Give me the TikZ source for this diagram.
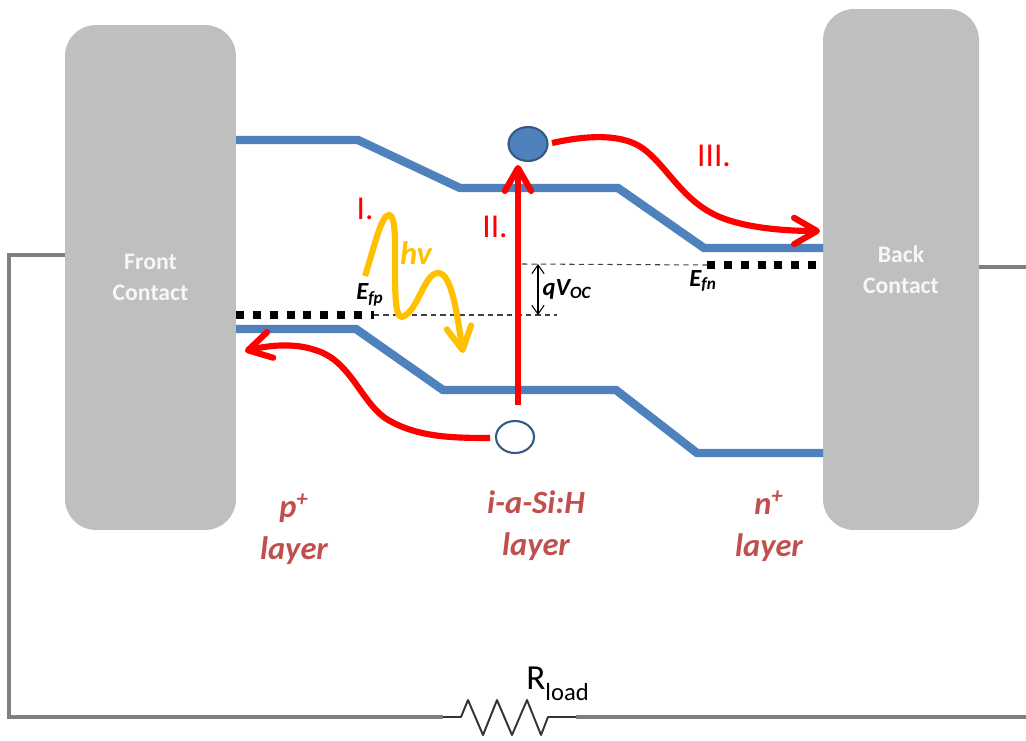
\documentclass[tikz,border=0pt]{standalone}
\usepackage{fontspec}
\setmainfont{Carlito}
\usetikzlibrary{arrows.meta,shapes.geometric}
\definecolor{bandblue}{HTML}{4F81BD}
\definecolor{contactgray}{HTML}{BFBFBF}
\definecolor{wiregray}{HTML}{7F7F7F}
\definecolor{layerred}{HTML}{C0504D}
\definecolor{photonyellow}{HTML}{FFC000}
\tikzset{
  contact/.style={draw=none,fill=contactgray,rounded corners=0.62cm,text=white!97!black,
    align=center,font=\bfseries\fontsize{13.5}{17.8}\selectfont},
  band/.style={draw=bandblue,line width=4.8pt,line join=miter},
  wire/.style={draw=wiregray,line width=2.3pt},
  fermi/.style={draw=black,line width=4.5pt,dash pattern=on 4.5pt off 5.1pt},
  quasi/.style={draw=black!75,line width=0.6pt,dash pattern=on 3pt off 2.4pt},
  carrier/.style={draw=red,line width=3.5pt,-{Straight Barb[round,length=13pt,width=15pt,line width=3.5pt]}},
  photon/.style={draw=photonyellow,line width=3.5pt,-{Straight Barb[round,length=13pt,width=14pt,line width=3.5pt]}},
  step label/.style={text=red,font=\fontsize{19}{19}\selectfont},
  layer label/.style={text=layerred,align=center,font=\bfseries\itshape\fontsize{18.5}{24}\selectfont},
  level label/.style={text=black,font=\bfseries\itshape\fontsize{14}{14}\selectfont},
}
\begin{document}
\begin{tikzpicture}[x=0.02cm,y=0.02cm]
\useasboundingbox (0,0) rectangle (1026,-740);
% contacts
\node [contact,minimum width=3.42cm,minimum height=10.1cm] (front) at (150.5,-277.5) {Front\\Contact};
\node [contact,minimum width=3.12cm,minimum height=10.42cm] (back) at (901,-269.5) {Back\\Contact};
% conduction band
\coordinate (c0) at (236,-140);
\coordinate (c1) at (358,-140);
\coordinate (c2) at (460,-188);
\coordinate (c3) at (618,-188);
\coordinate (c4) at (704,-248);
\coordinate (c5) at (823,-248);
\draw [band] (c0) -- (c1) -- (c2) -- (c3) -- (c4) -- (c5);
% valence band
\coordinate (v0) at (236,-329);
\coordinate (v1) at (356,-329);
\coordinate (v2) at (443,-390);
\coordinate (v3) at (616,-390);
\coordinate (v4) at (697,-453);
\coordinate (v5) at (823,-453);
\draw [band] (v0) -- (v1) -- (v2) -- (v3) -- (v4) -- (v5);
% quasi fermi levels
\coordinate (fp0) at (236,-315);
\coordinate (fp1) at (374,-315);
\coordinate (fp2) at (557,-315);
\coordinate (fn0) at (522,-264);
\coordinate (fn1) at (707,-265);
\coordinate (fn2) at (820,-265);
\draw [quasi] (fp1) -- (fp2);
\draw [quasi] (fn0) -- (fn1);
\draw [fermi] (fp0) -- (fp1);
\draw [fermi] (fn1) -- (fn2);
% open circuit voltage
\coordinate (voc0) at (538,-264);
\coordinate (voc1) at (538,-315);
\draw [black,line width=0.6pt,{Straight Barb[length=5pt,width=7pt]}-{Straight Barb[length=5pt,width=7pt]}] (voc0) -- (voc1);
% carriers
\node [ellipse,draw=bandblue!70!black,fill=bandblue,line width=1.2pt,minimum width=0.78cm,minimum height=0.68cm,inner sep=0pt] (electron) at (528,-144) {};
\node [ellipse,draw=bandblue!70!black,fill=white,line width=1.2pt,minimum width=0.76cm,minimum height=0.64cm,inner sep=0pt] (hole) at (515,-437) {};
\coordinate (exc0) at (518,-405);
\coordinate (exc1) at (518,-165);
\draw [carrier] (exc0) -- (exc1);
\coordinate (e0) at (552,-143);
\coordinate (e1) at (820,-231);
\draw [carrier] (e0) .. controls (575,-138) and (620,-130) .. (645,-150)
  .. controls (670,-170) and (685,-205) .. (725,-219)
  .. controls (750,-228) and (785,-231) .. (e1);
\coordinate (h0) at (490,-438);
\coordinate (h1) at (245,-351);
\draw [carrier] (h0) .. controls (450,-438) and (415,-437) .. (385,-418)
  .. controls (360,-400) and (350,-360) .. (315,-350)
  .. controls (295,-343) and (270,-345) .. (h1);
% photon
\coordinate (ph0) at (365,-276);
\coordinate (ph1) at (389,-215);
\coordinate (ph2) at (402,-317);
\coordinate (ph3) at (438,-273);
\coordinate (ph4) at (463,-353);
\draw [photon] (ph0) .. controls (374,-248) and (381,-215) .. (ph1)
  .. controls (402,-215) and (388,-318) .. (ph2)
  .. controls (418,-312) and (424,-273) .. (ph3)
  .. controls (452,-273) and (457,-315) .. (ph4);
% labels
\node [step label] (stepI) at (365,-209) {I.};
\node [step label] (stepII) at (495,-227) {II.};
\node [step label] (stepIII) at (714,-156) {III.};
\node [text=photonyellow,font=\bfseries\itshape\fontsize{18.5}{18.5}\selectfont] (hv) at (416,-253) {hv};
\node [level label] (efp) at (370,-295) {E\textsubscript{fp}};
\node [level label] (efn) at (703,-281) {E\textsubscript{fn}};
\node [level label] (qvoc) at (567,-289) {qV\textsubscript{OC}};
\node [layer label] (pl) at (294,-529) {p\textsuperscript{+}\\layer};
\node [layer label] (il) at (536,-526) {i-a-Si:H\\layer};
\node [layer label] (nl) at (769,-526) {n\textsuperscript{+}\\layer};
% load circuit
\coordinate (w0) at (9,-255);
\coordinate (w1) at (9,-717);
\coordinate (w2) at (443,-717);
\coordinate (w3) at (576,-717);
\coordinate (w4) at (1026,-717);
\coordinate (w5) at (1026,-267);
\draw [wire,line join=miter] (front.west |- w0) -- (w0) -- (w1) -- (w2);
\draw [wire] (w3) -- (w4);
\draw [wire] (back.east |- w5) -- (w5);
\coordinate (r0) at (461,-717);
\coordinate (r1) at (468,-700);
\coordinate (r2) at (483,-735);
\coordinate (r3) at (497,-700);
\coordinate (r4) at (512,-735);
\coordinate (r5) at (527,-700);
\coordinate (r6) at (541,-735);
\coordinate (r7) at (548,-717);
\draw [black!80,line width=1.1pt,line join=round] (w2) -- (r0) -- (r1) -- (r2) -- (r3) -- (r4) -- (r5) -- (r6) -- (r7) -- (w3);
\node [anchor=base west,inner sep=0pt,font=\fontsize{20}{20}\selectfont] (rload) at (526,-689) {R\raisebox{-0.32em}{\fontsize{14}{14}\selectfont load}};
\end{tikzpicture}
\end{document}
